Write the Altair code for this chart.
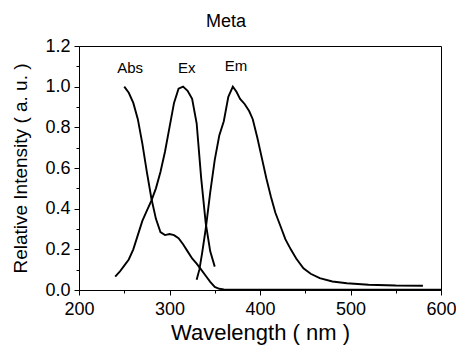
import altair as alt
import pandas as pd

abs_x = [250,255,260,265,270,275,280,285,290,295,300,305,310,315,320,325,330,335,340,345,350,355,360,380,400,450,500,550,600]
abs_y = [1.0,0.97,0.92,0.84,0.72,0.58,0.45,0.35,0.285,0.27,0.275,0.27,0.255,0.225,0.19,0.155,0.13,0.10,0.07,0.04,0.015,0.006,0.003,0.002,0.002,0.002,0.002,0.002,0.002]

ex_x = [240,245,250,255,260,265,270,275,280,285,290,295,300,305,310,315,320,325,330,335,340,345,350]
ex_y = [0.066,0.09,0.12,0.15,0.2,0.27,0.34,0.39,0.44,0.5,0.58,0.68,0.8,0.92,0.99,1.0,0.98,0.94,0.82,0.55,0.33,0.19,0.115]

em_x = [330,333,336,340,345,350,355,360,365,370,374,378,383,388,392,397,402,407,412,417,423,428,434,440,448,456,466,480,496,520,550,580]
em_y = [0.05,0.10,0.18,0.30,0.48,0.64,0.76,0.83,0.95,1.0,0.975,0.94,0.915,0.88,0.84,0.75,0.65,0.55,0.46,0.38,0.31,0.25,0.20,0.155,0.107,0.08,0.058,0.042,0.033,0.026,0.022,0.021]

label_text = ["Abs", "Ex", "Em"]
label_x = [256.5, 319, 373.6]
label_y = [1.09, 1.09, 1.10]

x_major = [200, 300, 400, 500, 600]
x_minor = [250, 350, 450, 550]
y_major = [0.0, 0.2, 0.4, 0.6, 0.8, 1.0, 1.2]
y_minor = [0.1, 0.3, 0.5, 0.7, 0.9, 1.1]

rows = []
for name, xs_, ys_ in [("Abs", abs_x, abs_y), ("Ex", ex_x, ex_y), ("Em", em_x, em_y)]:
    for a, b in zip(xs_, ys_):
        rows.append({"series": name, "wl": a, "val": b})
df = pd.DataFrame(rows)
lab = pd.DataFrame({"t": label_text, "wl": label_x, "val": label_y})

FONT = "Liberation Sans"
xs = alt.Scale(domain=[200, 600], nice=False, zero=False)
ys = alt.Scale(domain=[0, 1.2], nice=False)

lines = alt.Chart(df).mark_line(color="black", strokeWidth=1.9).encode(
    x=alt.X("wl:Q", scale=xs, axis=alt.Axis(orient="bottom", values=x_major, title="Wavelength ( nm )", format="d",
                                              tickSize=5, labelFontSize=18, titleFontSize=22,
                                              titlePadding=4, labelPadding=5, grid=False, labelFlush=False,
                                              domainColor="black", tickColor="black",
                                              labelColor="black", titleColor="black",
                                              labelFont=FONT, titleFont=FONT, titleFontWeight="normal")),
    y=alt.Y("val:Q", scale=ys, axis=alt.Axis(orient="left", values=y_major, title="Relative Intensity ( a. u. )", format=".1f",
                                               tickSize=5, labelFontSize=18, titleFontSize=19,
                                               titlePadding=14, labelPadding=4, grid=False, labelFlush=False,
                                               domainColor="black", tickColor="black",
                                               labelColor="black", titleColor="black",
                                               labelFont=FONT, titleFont=FONT, titleFontWeight="normal")),
    detail="series:N",
)

minor = alt.Chart(df).mark_point(opacity=0).encode(
    x=alt.X("wl:Q", scale=xs, axis=alt.Axis(orient="bottom", values=x_minor, labels=False, title="", tickSize=3,
                                              domain=False, grid=False, tickColor="black")),
    y=alt.Y("val:Q", scale=ys, axis=alt.Axis(orient="left", values=y_minor, labels=False, title="", tickSize=3,
                                               domain=False, grid=False, tickColor="black")),
)

texts = alt.Chart(lab).mark_text(fontSize=15, font=FONT, color="black").encode(
    x=alt.X("wl:Q", scale=xs, axis=None),
    y=alt.Y("val:Q", scale=ys, axis=None),
    text="t:N",
)

chart = alt.layer(lines, texts, minor).resolve_axis(x="independent", y="independent").properties(
    width=362, height=244,
    title=alt.TitleParams("Meta", fontSize=18, font=FONT, fontWeight="normal", color="black",
                          offset=6, dx=-34),
    autosize=alt.AutoSizeParams(type="none"),
    padding={"left": 71, "top": 38, "right": 15, "bottom": 60},
).configure_view(stroke="black", strokeWidth=1)

chart.save("out.html", embed_options={"renderer": "svg", "actions": False})
